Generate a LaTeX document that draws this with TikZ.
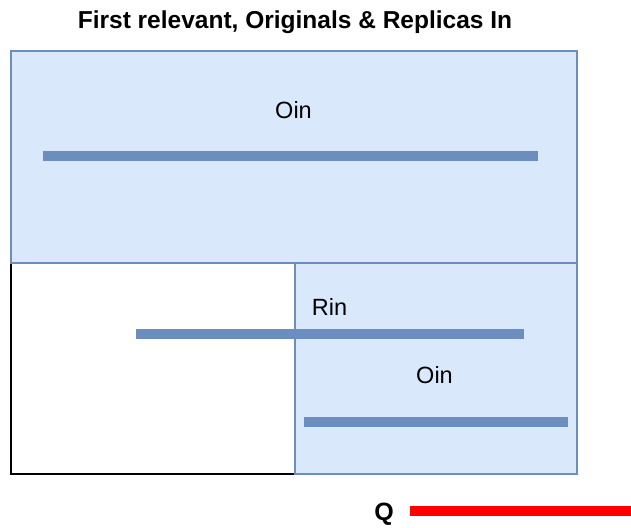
\documentclass[tikz,border=0pt]{standalone}
\usepackage{fontspec}
\setmainfont{Liberation Sans}
\usetikzlibrary{positioning}
\definecolor{ovfill}{HTML}{DAE8FC}
\definecolor{ovedge}{HTML}{6C8EBF}
\definecolor{qred}{HTML}{FF0000}
\tikzset{
ovregion/.style={rectangle,draw=ovedge,fill=ovfill,line width=1.5pt,inner sep=0pt,outer sep=0pt},
ovempty/.style={rectangle,draw=black,fill=white,line width=1.5pt,inner sep=0pt,outer sep=0pt},
ovbar/.style={draw=ovedge,line width=10pt},
ovquery/.style={draw=qred,line width=10pt},
ovlabel/.style={font=\fontsize{23.5}{28}\selectfont,inner sep=0pt},
ovtitle/.style={font=\fontsize{24.5}{29}\selectfont\bfseries,inner sep=0pt}
}
\begin{document}
\begin{tikzpicture}[x=1pt,y=-1pt]
\useasboundingbox (0,0) rectangle (631,527);
\node[ovtitle] (title) at (295,22) {First relevant, Originals \& Replicas In};
\node[ovempty,minimum width=284pt,minimum height=211pt] (rest) at (153,368.5) {};
\node[ovregion,minimum width=566pt,minimum height=212pt] (outer) at (294,157) {};
\node[ovregion,minimum width=282pt,minimum height=211pt] (inner) at (436,368.5) {};
\node[ovlabel] (oinTop) at (293.5,110.5) {Oin};
\node[ovlabel] (rin) at (329.5,307) {Rin};
\node[ovlabel] (oinLow) at (434.5,375.5) {Oin};
\node[font=\fontsize{25}{29}\selectfont\bfseries,inner sep=0pt] (q) at (384,514) {Q};
\draw[ovbar] (43,156) -- (538,156);
\draw[ovbar] (136,334) -- (524,334);
\draw[ovbar] (304,422) -- (568,422);
\draw[ovquery] (410,511) -- (631,511);
\end{tikzpicture}
\end{document}
